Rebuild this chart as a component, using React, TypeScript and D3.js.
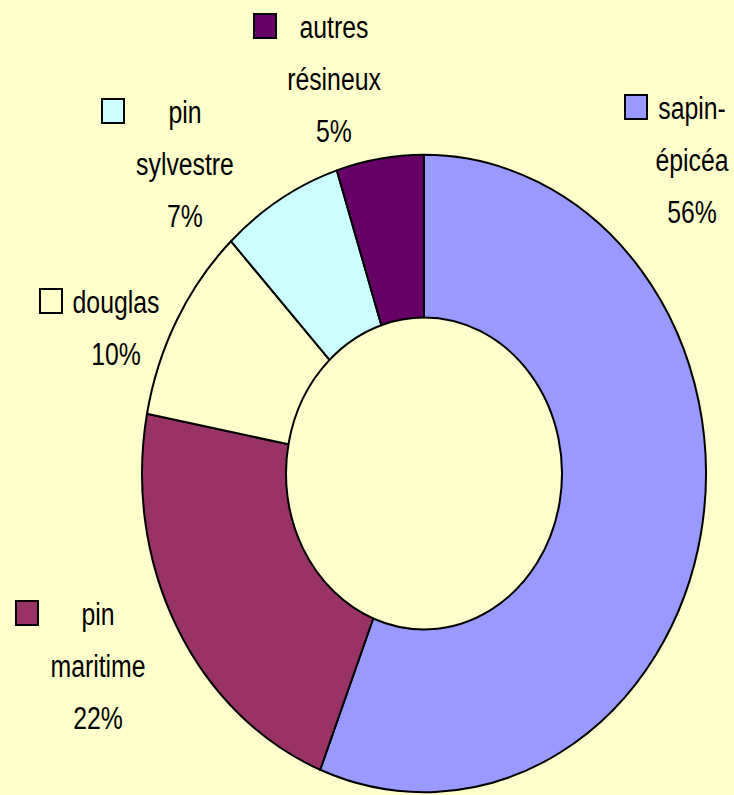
import React from 'react';
import * as d3 from 'd3';

// share of each conifer species (%)
const categories = ['sapin-épicéa', 'pin maritime', 'douglas', 'pin sylvestre', 'autres résineux'];
const values = [56, 22, 10, 7, 5];
const colors = ['#9999FF', '#993366', '#FFFFCC', '#CCFFFF', '#660066'];

// label layout: text centre x, first baseline y, legend key left x
const labelLayout = [
  [692, 119, 625],
  [98, 625, 16],
  [116, 313, 40],
  [185, 123, 102],
  [334, 38, 254],
];

const W = 734;
const H = 795;
const cx = 424;
const cy = 473.5;
const rOuter = 282;
const rInner = 138;
const yStretch = 1.13;
const lineGap = 52;
const narrow = 0.8; // condensed look of the original font

const splitLines = (name: string) => name.replace('-', '-\n').split(/[ \n]/);

const App = () => {
  const pie = d3.pie<number>().sort(null).value(d => d);
  const arcs = pie(values);
  const arc = d3.arc<d3.PieArcDatum<number>>().innerRadius(rInner).outerRadius(rOuter);

  const fmt = d3.format('.0f');

  return (
    <svg width={W} height={H} style={{ position: 'absolute', left: 0, top: 0, display: 'block' }}>
      <rect width={W} height={H} fill="#FFFFCC" />
      <g transform={`translate(${cx},${cy}) scale(1,${yStretch})`}>
        {arcs.map((a, i) => (
          <path
            key={categories[i]}
            d={arc(a) || ''}
            fill={colors[i]}
            stroke="#000"
            strokeWidth={2}
            vectorEffect="non-scaling-stroke"
            strokeLinejoin="round"
          />
        ))}
      </g>
      <g fontFamily="'Liberation Sans', Arial, sans-serif" fontSize={31} fill="#000">
        {categories.map((c, i) => {
          const [tx, ty, sx] = labelLayout[i];
          const lines = [...splitLines(c), `${fmt(values[i])}%`];
          return (
            <g key={c}>
              <rect x={sx} y={ty - 24} width={22} height={24} fill={colors[i]} stroke="#000" strokeWidth={2} />
              {lines.map((l, j) => (
                <text
                  key={j}
                  transform={`translate(${tx},${ty + j * lineGap}) scale(${narrow},1)`}
                  textAnchor="middle"
                >
                  {l}
                </text>
              ))}
            </g>
          );
        })}
      </g>
    </svg>
  );
};

export default App;
